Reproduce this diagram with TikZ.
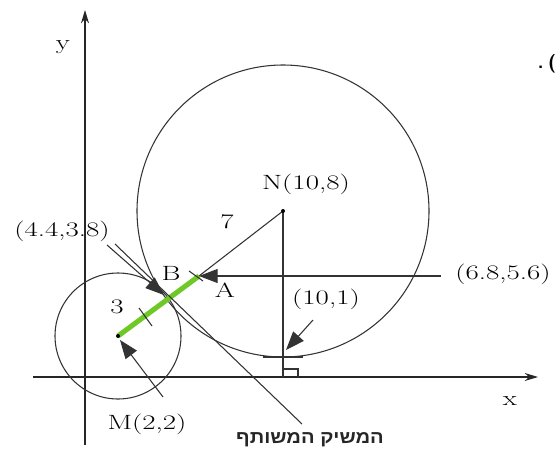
\documentclass[tikz,border=0pt]{standalone}
\usepackage{fontspec}
\newfontfamily\hebfont[Script=Hebrew]{Liberation Sans}
\TeXXeTstate=1
\usetikzlibrary{arrows.meta}
\newcommand\wdtxt[1]{\scalebox{1.4}[1]{#1}}
\begin{document}
\begin{tikzpicture}[x=0.75pt,y=-0.75pt,
  ln/.style={line width=0.8pt, draw=black!80},
  axis/.style={line width=0.9pt, draw=black!85, -{Stealth[length=10pt,width=6pt]}},
  ptr/.style={ln, -{Triangle[length=14pt,width=10.5pt]}},
  lbl/.style={font=\fontsize{15.5}{18}\selectfont, inner sep=0pt, text=black},
  dot/.style={circle, fill=black, inner sep=0pt, minimum size=3pt}]
\useasboundingbox (0,0) rectangle (557,450);
% points
\coordinate (N) at (283,211);
\coordinate (M) at (118,336);
\coordinate (A) at (199,276);
\coordinate (Bt) at (164,295);
\coordinate (F) at (283,377);
% axes
\coordinate (xs) at (33,377); \coordinate (xe) at (538,377);
\coordinate (ys) at (85,445); \coordinate (ye) at (85,10);
\draw[axis] (xs) -- (xe);
\draw[axis] (ys) -- (ye);
% circles
\draw[ln] (N) circle[radius=146];
\draw[ln] (M) circle[radius=63];
% green segment
\draw[line width=3.8pt, draw={rgb,255:red,110;green,200;blue,40}] (M) -- (A);
% ticks on green
\coordinate (t1a) at (139,308); \coordinate (t1b) at (152,326);
\draw[ln] (t1a) -- (t1b);
\coordinate (t2a) at (189,271); \coordinate (t2b) at (203,281);
\draw[ln] (t2a) -- (t2b);
% radius N-A
\draw[ln] (N) -- (A);
% vertical from N
\draw[ln] (N) -- (F);
\coordinate (h1) at (263,357); \coordinate (h2) at (303,357);
\draw[ln, line width=1pt] (h1) -- (h2);
\coordinate (r1) at (283,369); \coordinate (r2) at (298,369); \coordinate (r3) at (298,377);
\draw[ln] (r1) -- (r2) -- (r3);
% tangent line
\coordinate (ts) at (115,244); \coordinate (te) at (302,424);
\draw[ln] (ts) -- (te);
% pointers
\coordinate (p68) at (441,276);
\draw[ptr] (p68) -- (A);
\coordinate (p44) at (107,245);
\draw[ptr] (p44) -- (Bt);
\coordinate (p101s) at (313,320); \coordinate (p101e) at (286,350);
\draw[ptr] (p101s) -- (p101e);
\coordinate (pMs) at (163,397); \coordinate (pMe) at (120,340);
\draw[ptr] (pMs) -- (pMe);
% dots
\node[dot] (Nd) at (N) {};
\node[dot] (Md) at (M) {};
% labels
\node[lbl] (ylab) at (63,47) {\wdtxt{y}};
\node[lbl] (xlab) at (510,401) {\wdtxt{x}};
\node[lbl] (Nlab) at (306,184) {\wdtxt{N(10,8)}};
\node[lbl] (sev) at (227,222) {\wdtxt{7}};
\node[lbl] (c44) at (62,231) {\wdtxt{(4.4,3.8)}};
\node[lbl] (Blab) at (171,273) {\wdtxt{B}};
\node[lbl] (Alab) at (225,290) {\wdtxt{A}};
\node[lbl] (thr) at (117,307) {\wdtxt{3}};
\node[lbl] (Mlab) at (147,424) {\wdtxt{M(2,2)}};
\node[lbl] (c68) at (503,274) {\wdtxt{(6.8,5.6)}};
\node[lbl] (c101) at (326,299) {\wdtxt{(10,1)}};
\node[inner sep=0pt, text=black!85, font=\hebfont\fontsize{13.5}{16}\selectfont\bfseries] (heb) at (310,440) {\scalebox{1.12}[1]{\beginR המשיק המשותף\endR}};
\node[inner sep=0pt, anchor=west, font=\sffamily\bfseries\fontsize{14}{16}\selectfont] (frag) at (537.5,64) {.\hspace{0.25em}(};
\end{tikzpicture}
\end{document}
